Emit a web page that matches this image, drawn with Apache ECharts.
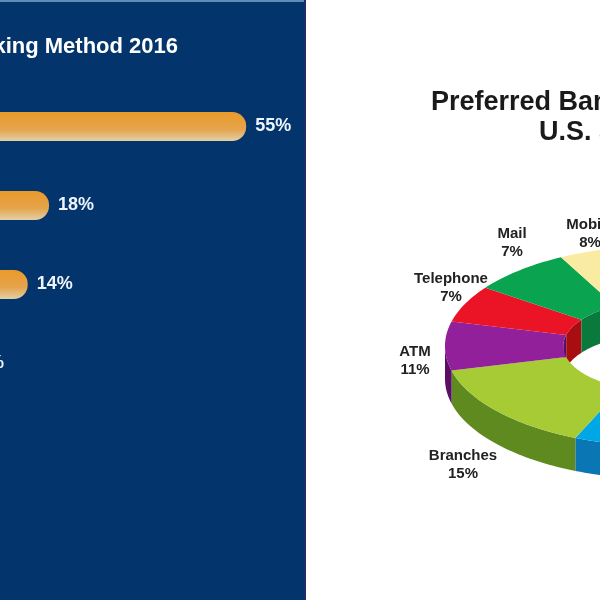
<!DOCTYPE html>
<html>
<head>
<meta charset="utf-8">
<title>Preferred Banking Method</title>
<script src="https://cdn.jsdelivr.net/npm/echarts@6/dist/echarts.min.js"></script>
<style>
  html, body { margin: 0; padding: 0; background: #fff; overflow: hidden; }
  /* the reference is a soft, enlarged jpeg */
  #chart { width: 600px; height: 600px; filter: blur(0.6px); }
</style>
</head>
<body>
<div id="chart"></div>
<script>
// left panel: bar rows (their names run off the left edge of the picture)
const barRows = ['Row 1', 'Row 2', 'Row 3', 'Row 4', 'Row 5'];
const barValues = [55, 18, 14, 3, 2];

// right panel: slices, clockwise from the big one that runs off the right edge
const pieNames = ['Internet', 'Branches', 'ATM', 'Telephone', 'Mail', 'Mobile'];
const pieValues = [52, 15, 11, 7, 7, 8];
const pieTop = ['#00a7e6', '#a6cb35', '#92209a', '#ea1426', '#0aa350', '#f9eca2'];
const pieSide = ['#0a76b4', '#5e8a1f', '#5a0f63', '#a80d12', '#0a7a3c', '#c9bb6e'];

// label centres for the slices that are in view
const labelSpots = { Branches: [463, 465], ATM: [415, 361], Telephone: [451, 288], Mail: [512, 243], Mobile: [590, 234] };

// shape of the tilted ring
const cx = 660, cy = 346, rx = 215, ry = 100, hole = 0.45, depth = 33;
const startAngle = -81 * Math.PI / 180;
const total = pieValues.reduce((a, b) => a + b, 0);

// the original is drawn in perspective, slices at the far left look narrower
function warp(t) {
  return t - 0.12 * Math.sin(2 * (t - Math.PI)) - 0.06 * Math.sin(t - Math.PI);
}

function ringPoint(t, r, drop) {
  const w = warp(t);
  return [cx + rx * r * Math.cos(w), cy + ry * r * Math.sin(w) + drop];
}

function sampleAngles(from, to) {
  const out = [];
  const n = Math.ceil((to - from) / 0.02);
  for (let k = 0; k <= n; k++) out.push(from + (to - from) * k / n);
  return out;
}

function wall(angles, r, fill) {
  const upper = angles.map(t => ringPoint(t, r, 0));
  const lower = angles.map(t => ringPoint(t, r, depth)).reverse();
  return { type: 'polygon', z2: 1, shape: { points: upper.concat(lower) }, style: { fill: fill } };
}

function renderSlice(params, api) {
  const i = params.dataIndex;
  let before = 0;
  for (let k = 0; k < i; k++) before += pieValues[k];
  const from = startAngle + before / total * Math.PI * 2;
  const to = from + api.value(0) / total * Math.PI * 2;
  const angles = sampleAngles(from, to);
  const near = angles.filter(t => Math.sin(warp(t)) >= 0);
  const far = angles.filter(t => Math.sin(warp(t)) < 0);
  const children = [];

  if (near.length > 1) children.push(wall(near, 1, pieSide[i]));
  if (far.length > 1) children.push(wall(far, hole, pieSide[i]));

  const outer = angles.map(t => ringPoint(t, 1, 0));
  const inner = angles.map(t => ringPoint(t, hole, 0)).reverse();
  children.push({ type: 'polygon', z2: 2, shape: { points: outer.concat(inner) }, style: { fill: pieTop[i] } });

  const spot = labelSpots[pieNames[i]];
  if (spot) {
    children.push({
      type: 'text', z2: 3, x: spot[0], y: spot[1],
      style: {
        text: pieNames[i] + '\n' + api.value(0) + '%',
        fill: '#222', font: 'bold 15px "Liberation Sans"',
        lineHeight: 18, align: 'center', verticalAlign: 'middle'
      }
    });
  }
  return { type: 'group', children: children };
}

const chart = echarts.init(document.getElementById('chart'));
chart.setOption({
  animation: false,
  backgroundColor: '#fff',
  graphic: [
    { type: 'rect', z: -1, silent: true, shape: { x: 0, y: 0, width: 305, height: 600 }, style: { fill: '#03346c' } },
    { type: 'rect', z: -1, silent: true, shape: { x: 0, y: 0, width: 305, height: 2 }, style: { fill: '#5f8db5' } },
    { type: 'rect', z: -1, silent: true, shape: { x: 304, y: 0, width: 2, height: 600 }, style: { fill: '#1b2f66' } }
  ],
  title: [
    {
      text: 'Preferred Banking Method 2016', left: 178, top: 36, textAlign: 'right', padding: 0,
      textStyle: { color: '#fff', fontFamily: 'Liberation Sans', fontWeight: 'bold', fontSize: 22 }
    },
    {
      text: 'Preferred Banking Method', left: 431, top: 89, padding: 0,
      textStyle: { color: '#1a1a1a', fontFamily: 'Liberation Sans', fontWeight: 'bold', fontSize: 27 }
    },
    {
      text: 'U.S. adults', left: 539, top: 119, padding: 0,
      textStyle: { color: '#1a1a1a', fontFamily: 'Liberation Sans', fontWeight: 'bold', fontSize: 27 }
    }
  ],
  // zero sits left of the picture, so the axis starts above zero and the bars overrun it
  grid: { left: 0, top: 87, width: 600, height: 395 },
  xAxis: { type: 'value', min: 8.8, max: 121.4, show: false },
  yAxis: { type: 'category', data: barRows, inverse: true, show: false },
  series: [
    {
      type: 'bar',
      data: barValues,
      barWidth: 29,
      clip: false,
      itemStyle: {
        borderRadius: [0, 14, 14, 0],
        color: new echarts.graphic.LinearGradient(0, 0, 0, 1, [
          { offset: 0, color: '#ea9a2a' },
          { offset: 0.6, color: '#e5a44c' },
          { offset: 1, color: '#e2d0a8' }
        ])
      },
      label: {
        show: true, position: 'right', distance: 9, formatter: '{c}%',
        color: '#eef4fb', fontFamily: 'Liberation Sans', fontWeight: 'bold', fontSize: 18
      }
    },
    {
      type: 'custom',
      coordinateSystem: 'none',
      data: pieValues,
      renderItem: renderSlice
    }
  ]
});
</script>
</body>
</html>
